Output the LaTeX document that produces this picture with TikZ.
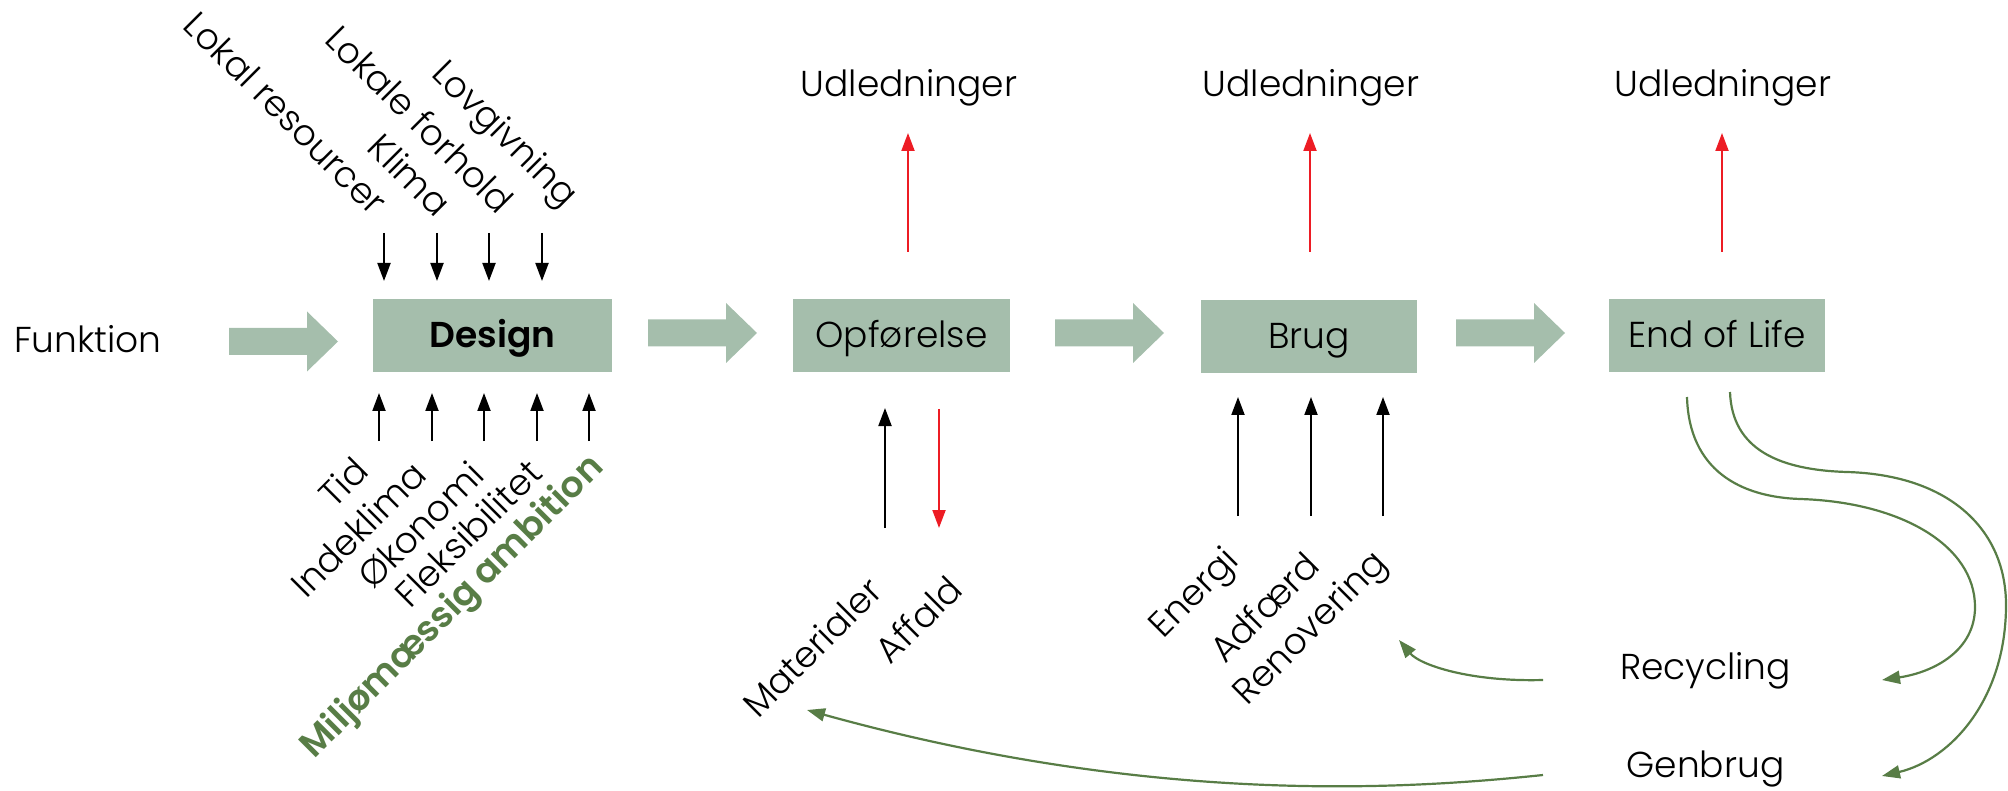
\documentclass[tikz,border=0pt]{standalone}
\usepackage{fontspec}
\setmainfont{Poppins}[UprightFont={* Light}, BoldFont={* SemiBold}]
\usetikzlibrary{arrows.meta}
\definecolor{boxgreen}{RGB}{165,190,172}
\definecolor{dkgreen}{RGB}{88,125,70}
\definecolor{arrred}{RGB}{237,28,36}
\begin{document}
\begin{tikzpicture}[x=1pt,y=-1pt,
  txt/.style={font=\fontsize{36}{42}\selectfont, inner sep=0pt},
  rlbl/.style={font=\fontsize{36}{42}\selectfont, inner sep=0pt},
  stage/.style={fill=boxgreen, minimum height=73pt, inner sep=0pt,
    text height=25pt, text depth=0pt, font=\fontsize{36}{42}\selectfont},
  blk/.style={-{Triangle[width=13pt,length=18pt]}, line width=2pt, black},
  redarr/.style={-{Triangle[width=13pt,length=18pt]}, line width=2pt, arrred},
  grn/.style={-{Triangle[width=13pt,length=18pt]}, line width=2.2pt, dkgreen},
  fat/.pic={\fill[boxgreen] (0,-13.5) -- (78,-13.5) -- (78,-30) -- (109,0) -- (78,30) -- (78,13.5) -- (0,13.5) -- cycle;}
]
\useasboundingbox (0,0) rectangle (2008,791);

% stages
\node[stage, minimum width=239pt, font=\fontsize{36}{42}\selectfont\bfseries] (design) at (492.5,335.5) {Design};
\node[stage, minimum width=217pt] (opf) at (901.5,335.5) {Opførelse};
\node[stage, minimum width=216pt] (brug) at (1309,336.5) {Brug};
\node[stage, minimum width=216pt] (eol) at (1717,335.5) {End of Life};

% fat arrows
\pic at (229,341.5) {fat};
\pic at (648,333) {fat};
\pic at (1055,333) {fat};
\pic at (1456,333) {fat};

\node[txt, anchor=base west] (funk) at (14,353) {Funktion};

% top labels of design
\node[rlbl, rotate=-45] (lokres) at (286,113) {Lokal resourcer};
\node[rlbl, rotate=-45] (klima) at (410,175) {Klima};
\node[rlbl, rotate=-45] (lokfor) at (420,119) {Lokale forhold};
\node[rlbl, rotate=-45] (lovg) at (503,136) {Lovgivning};

\foreach \x/\n in {384/a,437/b,489/c,542/d}{
  \coordinate (t\n s) at (\x,233);
  \coordinate (t\n e) at (\x,281);
  \draw[blk] (t\n s) -- (t\n e);
}

% bottom labels of design
\node[rlbl, rotate=45] (tid) at (343,482) {Tid};
\node[rlbl, rotate=45] (inde) at (358,529) {Indeklima};
\node[rlbl, rotate=45] (oko) at (420,525) {Økonomi};
\node[rlbl, rotate=45] (fleks) at (468,533) {Fleksibilitet};
\node[rlbl, rotate=45, text=dkgreen, font=\fontsize{36}{42}\selectfont\bfseries] (milj) at (453,608) {Miljømæssig ambition};

\foreach \x/\n in {379/a,432/b,484/c,537/d,589/e}{
  \coordinate (b\n s) at (\x,441);
  \coordinate (b\n e) at (\x,393);
  \draw[blk] (b\n s) -- (b\n e);
}

% Udledninger
\node[txt, anchor=base] (u1) at (909,97) {Udledninger};
\node[txt, anchor=base] (u2) at (1311,97) {Udledninger};
\node[txt, anchor=base] (u3) at (1723,97) {Udledninger};
\coordinate (r1s) at (908,252); \coordinate (r1e) at (908,133);
\coordinate (r2s) at (1310,252); \coordinate (r2e) at (1310,133);
\coordinate (r3s) at (1722,252); \coordinate (r3e) at (1722,133);
\draw[redarr] (r1s) -- (r1e);
\draw[redarr] (r2s) -- (r2e);
\draw[redarr] (r3s) -- (r3e);

% Opfoerelse inputs
\node[rlbl, rotate=45] (mat) at (812,647) {Materialer};
\node[rlbl, rotate=45] (aff) at (918,619) {Affald};
\coordinate (ms) at (885,528); \coordinate (me) at (885,408);
\coordinate (as) at (939,409); \coordinate (ae) at (939,528);
\draw[blk] (ms) -- (me);
\draw[redarr] (as) -- (ae);

% Brug inputs
\node[rlbl, rotate=45] (ene) at (1196,595) {Energi};
\node[rlbl, rotate=45] (adf) at (1264,607) {Adfærd};
\node[rlbl, rotate=45] (ren) at (1312,630) {Renovering};
\foreach \x/\n in {1238/a,1311/b,1383/c}{
  \coordinate (g\n s) at (\x,516);
  \coordinate (g\n e) at (\x,397);
  \draw[blk] (g\n s) -- (g\n e);
}

% recycling / genbrug
\node[txt] (rec) at (1705.5,671) {Recycling};
\node[txt] (gen) at (1705.5,769) {Genbrug};
\coordinate (recl) at (1543,680);
\coordinate (genl) at (1543,775);
\coordinate (renv) at (1399,640);
\coordinate (matv) at (807,710);
\coordinate (e1) at (1687,397);
\coordinate (e2) at (1730,392);
\coordinate (rectip) at (1882,680);
\coordinate (gentip) at (1882,776);

\draw[grn] (recl) .. controls (1470,682) and (1420,665) .. (renv);
\draw[grn] (genl) .. controls (1400,790) and (1150,805) .. (matv);
\draw[grn] (e1) .. controls (1689,470) and (1740,497) .. (1800,499)
  .. controls (1900,502) and (1975,545) .. (1975,607)
  .. controls (1975,650) and (1935,672) .. (rectip);
\draw[grn] (e2) .. controls (1732,450) and (1780,470) .. (1847,472)
  .. controls (1950,475) and (2006,530) .. (2006,605)
  .. controls (2006,700) and (1950,760) .. (gentip);
\end{tikzpicture}
\end{document}
